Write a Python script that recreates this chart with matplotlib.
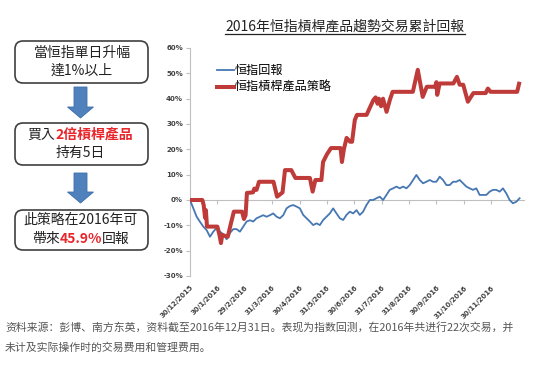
import matplotlib
matplotlib.use('Agg')
import matplotlib.pyplot as plt
from matplotlib.lines import Line2D
from matplotlib.patches import FancyBboxPatch, FancyArrow
from matplotlib.offsetbox import TextArea, HPacker, AnnotationBbox
import numpy as np

plt.rcParams['font.family'] = ['Noto Sans CJK TC', 'DejaVu Sans']

# Data
title = '2016年恒指槓桿產品趨勢交易累計回報'
month_labels = ['30/12/2015', '30/1/2016', '29/2/2016', '31/3/2016', '30/4/2016',
                '31/5/2016', '30/6/2016', '31/7/2016', '31/8/2016', '30/9/2016',
                '31/10/2016', '30/11/2016']
y_ticks = [-30, -20, -10, 0, 10, 20, 30, 40, 50, 60]

# HSI cumulative return (%), evenly sampled over the year
hsi_ret = [0, -3.3, -6.6, -8.6, -10.5, -11.9, -14.5, -12.5, -11.0, -12.5,
           -13.5, -15.5, -13.0, -11.5, -11.5, -12.5, -10.5, -8.5, -8.0, -8.5,
           -7.2, -6.6, -6.0, -6.6, -6.0, -5.3, -6.6, -7.2, -6.0, -3.3,
           -2.4, -2.0, -2.6, -3.3, -5.9, -7.2, -8.5, -9.9, -9.2, -9.9,
           -7.9, -6.6, -5.3, -3.3, -5.3, -7.2, -7.9, -5.9, -4.6, -5.3,
           -4.0, -5.9, -4.6, -2.0, 0.0, 0.0, 0.7, 1.3, 0.0, 2.0,
           4.0, 4.6, 5.3, 4.6, 5.3, 4.6, 5.9, 7.9, 9.9, 7.9,
           6.6, 7.2, 7.9, 7.2, 7.2, 9.2, 7.9, 5.9, 5.9, 7.2,
           7.2, 7.9, 6.6, 5.3, 4.6, 4.0, 4.6, 2.0, 2.0, 2.0,
           3.3, 4.0, 4.0, 3.3, 4.6, 2.6, 0.0, -1.3, -0.7, 0.7]
hsi_end = 12.04  # months after 30/12/2015

# strategy cumulative return: (month position, %)
strat_x = [0, 0.45, 0.5, 0.55, 0.58, 0.62, 1.0, 1.08, 1.13, 1.18, 1.38, 1.5, 1.57, 1.6,
           1.9, 1.97, 2.03, 2.08, 2.3, 2.35, 2.43, 2.52, 3.05, 3.18, 3.38, 3.47, 3.7,
           3.85, 4.38, 4.48, 4.58, 4.8, 4.86, 5.0, 5.15, 5.5, 5.55, 5.62, 5.72, 5.85,
           5.92, 6.02, 6.1, 6.45, 6.55, 6.7, 6.78, 6.85, 6.9, 6.98, 7.05, 7.18, 7.3,
           7.4, 8.14, 8.32, 8.5, 8.65, 8.95, 9.0, 9.03, 9.12, 9.62, 9.75, 9.85, 9.98,
           10.15, 10.35, 10.8, 10.88, 10.98, 11.95, 12.02]
strat_ret = [0, 0, -2, -7, -4, -10.5, -10.5, -14, -17, -13.8, -14.5, -9, -6, -4.6,
             -4.6, -7.5, -6, 2.8, 3.0, 4.5, 4.0, 7.2, 7.2, 1.3, 3.0, 11.8, 11.8,
             8.7, 8.7, 3.3, 7.9, 7.9, 15, 18, 20.5, 20.5, 15, 20, 24.5, 23,
             23, 31.6, 33.6, 33.6, 36, 39.5, 40.5, 38, 40, 37, 40, 34.8, 39.5,
             42.7, 42.7, 51.4, 40.7, 44.7, 44.7, 46.5, 41.5, 46, 46, 48.6, 45.5, 45.5,
             38.8, 42.2, 42.2, 44, 42.7, 42.7, 45.9]

footer = ['资料来源：彭博、南方东英，资料截至2016年12月31日。表现为指数回测，在2016年共进行22次交易，并',
          '未计及实际操作时的交易费用和管理费用。']

W, H = 550, 367
fig = plt.figure(figsize=(5.5, 3.67), dpi=100)

# ---- chart ----
ax = fig.add_axes([190 / W, 1 - 276 / H, 334 / W, 228 / H])
hsi_x = np.linspace(0, hsi_end, len(hsi_ret))
ax.plot(hsi_x, hsi_ret, color='#4677B3', lw=1.3, label='恒指回報', zorder=3)
ax.plot(strat_x, strat_ret, color='#BE3B3A', lw=2.9, label='恒指槓桿產品策略',
        solid_joinstyle='round', zorder=4)
ax.set_xlim(0, 12.2)
ax.set_ylim(-30, 60)
ax.set_yticks(y_ticks)
ax.set_yticklabels([f'{v}%' for v in y_ticks], fontsize=5, fontweight='bold',
                   color='#404040', family='DejaVu Sans')
ax.set_xticks(range(len(month_labels)))
ax.set_xticklabels(month_labels, rotation=45, ha='right', rotation_mode='anchor',
                   fontsize=5, fontweight='bold', color='#404040', family='DejaVu Sans')
ax.tick_params(axis='x', length=0, pad=6)
ax.tick_params(axis='y', length=3, color='#BFBFBF', pad=2)
for s in ['top', 'right', 'bottom']:
    ax.spines[s].set_visible(False)
ax.spines['left'].set_color('#BFBFBF')

# zero line with month ticks
zero = ax.secondary_xaxis(1 / 3)
zero.set_xticks(range(len(month_labels)))
zero.tick_params(length=3, color='#BFBFBF', labelbottom=False, labeltop=False)
zero.spines['bottom'].set_color('#BFBFBF')

ax.legend(loc='upper left', bbox_to_anchor=(0.08, 0.93), frameon=False,
          fontsize=8.7, handlelength=1.4, handletextpad=0.1, labelspacing=0.35,
          borderpad=0, borderaxespad=0)

# title with underline
t = fig.text(345 / W, 1 - 26.5 / H, title, ha='center', va='center', fontsize=10,
             color='#222222')
fig.canvas.draw()
bb = t.get_window_extent().transformed(fig.transFigure.inverted())
fig.add_artist(Line2D([bb.x0, bb.x1], [1 - 33.5 / H] * 2, transform=fig.transFigure,
                      color='#222222', lw=0.9))

# ---- flow chart ----
fa = fig.add_axes([0, 0, 1, 1], zorder=-1)
fa.set_xlim(0, W)
fa.set_ylim(H, 0)
fa.axis('off')

boxes = [(15, 41, 42), (15, 123, 42), (15, 210, 40)]
for bx, by, bh in boxes:
    fa.add_patch(FancyBboxPatch((bx, by), 133, bh,
                                boxstyle='round,pad=0,rounding_size=8',
                                fc='white', ec='#3F3F3F', lw=1.2))

for ay, alen, hl in [(87, 31, 11), (173, 30, 11)]:
    fa.add_patch(FancyArrow(80.5, ay, 0, alen, width=13, head_width=26, head_length=hl,
                            length_includes_head=True, fc='#4F81BD', ec='#3C6EA8', lw=0.6))

blk = dict(fontsize=10, color='#222222')
red = dict(fontsize=10, color='#E8262B', fontweight='bold')
lines = [
    ([('當恒指單日升幅', blk)], 82, 53),
    ([('達1%以上', blk)], 82, 71),
    ([('買入', blk), ('2倍槓桿產品', red)], 80, 135),
    ([('持有5日', blk)], 80, 153),
    ([('此策略在2016年可', blk)], 81, 220),
    ([('帶來', blk), ('45.9%', red), ('回報', blk)], 81, 239),
]
for parts, cx, cy in lines:
    pack = HPacker(children=[TextArea(s, textprops=p) for s, p in parts],
                   sep=0, pad=0, align='baseline')
    fa.add_artist(AnnotationBbox(pack, (cx, cy), xycoords='data', frameon=False,
                                 box_alignment=(0.5, 0.5), pad=0))

# ---- footer ----
for i, txt in enumerate(footer):
    fig.text(5 / W, 1 - (327 + 21 * i) / H, txt, ha='left', va='center', fontsize=7.8,
             color='#555555', family=['Noto Sans CJK SC', 'DejaVu Sans'])

fig.savefig('out.png', dpi=100)
